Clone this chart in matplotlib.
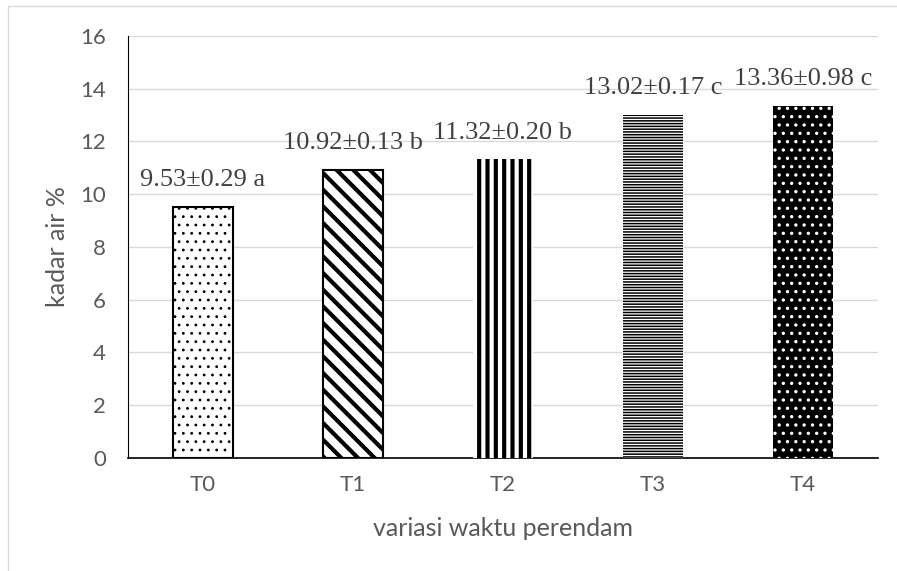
import matplotlib as mpl
mpl.use('Agg')
import matplotlib.pyplot as plt
from matplotlib.patches import Rectangle

# Data
perlakuan = ['T0', 'T1', 'T2', 'T3', 'T4']
kadar_air = [9.53, 10.92, 11.32, 13.02, 13.36]
sd = [0.29, 0.13, 0.20, 0.17, 0.98]
notasi = ['a', 'b', 'b', 'c', 'c']

fig = plt.figure(figsize=(8.97, 5.71), dpi=100)
ax = fig.add_axes([0.1427, 0.1979, 0.8361, 0.7391])

# garis tepi chart (gaya Excel)
fig.patches.append(Rectangle((8/897, -0.01), 1.0, 1 - 6/571 + 0.01, transform=fig.transFigure,
                             fill=False, edgecolor='#d9d9d9', linewidth=1.0))

x = list(range(len(perlakuan)))
lebar = 0.4

# T0 titik
b0 = ax.bar(x[0], kadar_air[0], lebar, color='white', edgecolor='black', hatch='..', linewidth=1.5, zorder=3)
b0[0].set_hatch_linewidth(0.8)
# T1 diagonal
b1 = ax.bar(x[1], kadar_air[1], lebar, color='white', edgecolor='black', hatch='\\\\', linewidth=1.5, zorder=3)
b1[0].set_hatch_linewidth(3.0)
# T2 vertikal
b2 = ax.bar(x[2], kadar_air[2], lebar, color='white', edgecolor='black', hatch='||', linewidth=0, zorder=3)
b2[0].set_hatch_linewidth(3.0)
# T3 horizontal
b3 = ax.bar(x[3], kadar_air[3], lebar, color='white', edgecolor='black', hatch='------', linewidth=0, zorder=3)
b3[0].set_hatch_linewidth(1.1)
# T4 hitam dengan titik putih
b4 = ax.bar(x[4], kadar_air[4], lebar, color='black', edgecolor='white', hatch='..', linewidth=0, zorder=3)
b4[0].set_hatch_linewidth(1.2)

for i in x:
    label = '%.2f\u00b1%.2f %s' % (kadar_air[i], sd[i], notasi[i])
    ax.annotate(label, (x[i], kadar_air[i]), xytext=(0, 15), textcoords='offset points',
                ha='center', va='baseline', fontsize=19, family='Liberation Serif', color='#404040')

ax.set_xlim(-0.5, 4.5)
ax.set_ylim(0, 16)
ax.set_yticks(range(0, 17, 2))
ax.set_xticks(x)
ax.set_xticklabels(perlakuan)
ax.grid(axis='y', color='#d9d9d9', linewidth=1, zorder=0)
ax.set_axisbelow(True)

for s in ['top', 'right']:
    ax.spines[s].set_visible(False)
ax.spines['left'].set_color('black')
ax.spines['bottom'].set_color('black')
ax.spines['bottom'].set_linewidth(1.2)
ax.tick_params(axis='both', length=0, labelsize=16, labelcolor='#595959')
ax.tick_params(axis='x', pad=12)
ax.tick_params(axis='y', pad=16)
for t in ax.get_xticklabels() + ax.get_yticklabels():
    t.set_family('Lato')

ax.set_xlabel('variasi waktu perendam', fontsize=18, color='#595959', family='Lato', va='center')
ax.set_ylabel('kadar air %', fontsize=18, color='#595959', family='Lato', va='center')
ax.xaxis.set_label_coords(0.5, (458 - 528) / 422)
ax.yaxis.set_label_coords((57 - 128) / 750, 0.5)

plt.savefig('out.png', dpi=100)
